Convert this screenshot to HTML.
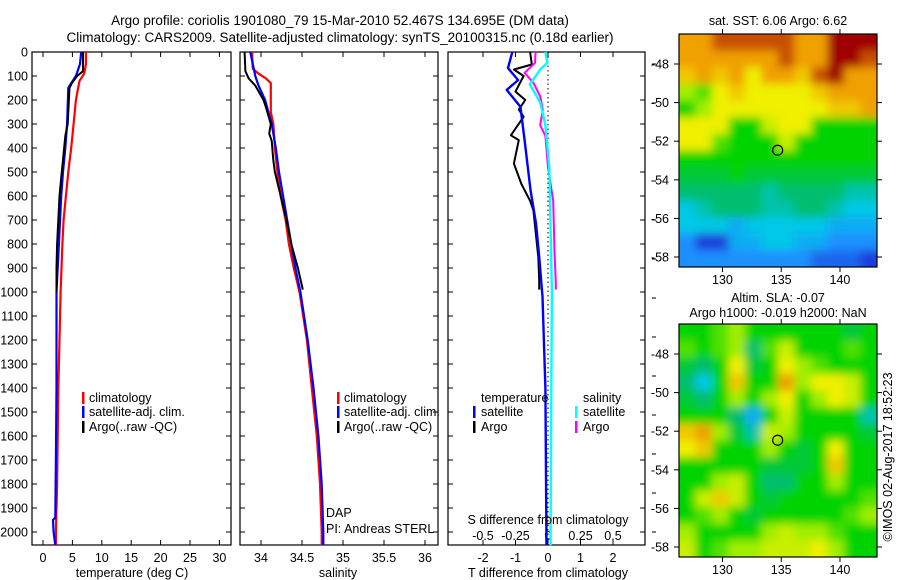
<!DOCTYPE html>
<html><head><meta charset="utf-8"><style>
body{margin:0;background:#fff}
svg{display:block;font-family:"Liberation Sans",sans-serif}
text{font-size:12.5px;fill:#000}
</style></head><body>
<svg id="s" width="900" height="580" xmlns="http://www.w3.org/2000/svg">
<defs>
<filter id="bl" filterUnits="userSpaceOnUse" x="640" y="0" width="260" height="580"><feGaussianBlur stdDeviation="4.5"/></filter>
<clipPath id="c1"><rect x="679" y="34" width="198" height="233"/></clipPath>
<clipPath id="c2"><rect x="679" y="324" width="198" height="233"/></clipPath>
</defs>
<text x="340" y="25" text-anchor="middle" style="font-size:13.5px">Argo profile: coriolis 1901080_79 15-Mar-2010 52.467S 134.695E (DM data)</text>
<text x="340" y="42" text-anchor="middle" style="font-size:13.5px">Climatology: CARS2009. Satellite-adjusted climatology: synTS_20100315.nc (0.18d earlier)</text>
</svg>
<script>
// ---- data ----
const tempClimDepth=[0,50,90,120,200,300,400,500,600,700,800,1000,1200,1400,1600,1800,2000,2055];
const tempClim=[7.3,7.3,7.0,6.2,5.6,5.2,4.8,4.3,3.9,3.5,3.3,3.0,2.8,2.6,2.5,2.4,2.2,2.2];
const tempSatDepth=[0,50,100,130,150,300,400,500,600,800,1000,1400,1700,1940,1950,2000,2055];
const tempSat=[6.5,6.3,5.6,4.8,4.3,4.1,3.8,3.4,3.1,2.7,2.3,2.3,2.2,2.1,1.7,1.8,2.1];
const tempArgoDepth=[0,80,100,130,150,200,300,350,450,550,600,800,900,1000];
const tempArgo=[6.8,6.8,5.8,4.9,4.5,4.4,4.2,3.8,3.4,3.0,2.8,2.4,2.3,2.3];
const salClimDepth=[0,70,90,110,130,250,300,400,500,600,700,800,900,1000,1200,1400,1600,1800,2000,2055];
const salClim=[33.89,33.9,33.97,34.06,34.12,34.12,34.15,34.17,34.2,34.24,34.3,34.34,34.4,34.47,34.56,34.62,34.68,34.72,34.74,34.74];
const salSatDepth=[0,50,100,140,200,300,400,500,600,700,800,900,1000,1200,1400,1600,1800,2000,2055];
const salSat=[33.87,33.9,33.93,33.97,34.05,34.13,34.18,34.22,34.27,34.32,34.37,34.42,34.48,34.57,34.64,34.7,34.74,34.76,34.76];
const salArgoDepth=[0,80,110,140,200,230,300,340,370,450,500,600,700,800,900,990];
const salArgo=[33.8,33.81,33.85,33.93,34.03,34.06,34.12,34.1,34.13,34.15,34.17,34.24,34.31,34.37,34.45,34.51];
const dTSatDepth=[0,67,117,158,228,367,575,714,853,1020,1400,2000,2055];
const dTSat=[-1.1,-1.23,-0.92,-1.27,-0.85,-0.72,-0.54,-0.37,-0.27,-0.17,-0.08,-0.05,-0.05];
const dTArgoDepth=[0,52,73,100,165,200,240,270,347,367,465,550,620,660,855,950,990];
const dTArgo=[-0.55,-0.5,-1.05,-0.75,-1.0,-0.7,-0.9,-0.75,-1.14,-0.9,-1.05,-0.82,-0.55,-0.45,-0.3,-0.27,-0.27];
const dSSatDepth=[0,45,73,135,210,305,480,1000,1400,2000,2055];
const dSSat=[-0.02,-0.005,-0.06,-0.14,-0.06,-0.02,0.01,0.03,0.025,0.02,0.02];
const dSArgoDepth=[0,45,87,130,185,240,305,350,480,620,830,960,990];
const dSArgo=[-0.095,-0.1,-0.18,-0.11,-0.06,-0.04,-0.06,-0.02,0,0.04,0.05,0.06,0.06];
const depthTicks=[0,100,200,300,400,500,600,700,800,900,1000,1100,1200,1300,1400,1500,1600,1700,1800,1900,2000];
const tempTicks=[0,5,10,15,20,25,30];
const salTicks=[34,34.5,35,35.5,36];
const salTickLabels=["34","34.5","35","35.5","36"];
const dTTicks=[-2,-1,0,1,2];
const dSTicks=[-0.5,-0.25,0,0.25,0.5];
const dSTickLabels=["-0.5","-0.25","0","0.25","0.5"];
const lonTicks=[130,135,140];
const latTicks=[-48,-50,-52,-54,-56,-58];
const argoLon=134.695, argoLat=-52.467;
const sstGrid=[
[8,8,8.5,8.5,8.5,8.5,8.5,8,8,9,9,9],
[8,8,8,8,8,8,8.5,8,8,9,9,8.5],
[7.5,8,7.5,8,7,8,8,7.5,8.5,9,8,8],
[6,5.5,7,7.5,7,7,7,7,7.5,8,8,8],
[5,6,7,7,7,7,7,7,7,7.5,7.5,8],
[7,7,7,5,5,6.5,7,7,5,5,5,5],
[7,7,5.5,5,5,5,6.5,5,5,5,5,5],
[5,5,5,5,5,5,5,5,5,5,5,5],
[4.5,4.5,4.5,5,4.5,4.5,4.5,4.5,4.5,4.5,4.5,4.5],
[4,4,4,4,4,3.5,4,4,4,4,3.5,3.5],
[3,3.5,4,4,4,3.5,3.5,4,4,3.5,3,3],
[3,3,3,2.5,3,3,3,3,3,2.5,2.5,2.5],
[2,1,1,2.5,2.5,3,3,2.5,2.5,2,2,2],
[2,2,2,2,2,2,2,2,1.5,1.5,1.5,1]];
const slaGrid=[
[5,5,5.5,6,5,5,5,5,5,5,4.5,5],
[5.5,5,5.5,6,4,5.5,6.5,5,5,5,5.5,5],
[4.5,4,5,7,4.5,5,7,6,5.5,5,5,5],
[4,3,5,7.5,5,5,8,6,7,7,6.5,5],
[4.5,4,5,6,5,6,7,5,6,7,6.5,5],
[5,5,5,4,2.5,5,6.5,5,5,5,5,3.5],
[7.5,8,6,4.5,3.5,6.5,6,5,5,5,5,4.5],
[7,7.5,5,5,5,6,5,4.5,5,7,5,5],
[5,5,5,5,5,4.5,4.5,4.5,5,7.5,5,5],
[5,5,6,6.5,5,4,4,5,5,6,5,5],
[5,6.5,7.5,6.5,5,4.5,5,5,5,5,5,5.5],
[5,5.5,6,5,4.5,5,5,5,5,5,5.5,6],
[6,5,5,5,5,6,6.5,6,6,5.5,5,5],
[6.5,5,5.5,6,6,6.5,6.5,6.5,7,6,5,5]];

// ---- helpers ----
const S=document.getElementById('s'),NS='http://www.w3.org/2000/svg';
function mk(t,a,p){const e=document.createElementNS(NS,t);for(const k in a)e.setAttribute(k,a[k]);(p||S).appendChild(e);return e;}
const T=52,B=545;
const yD=d=>T+d*0.24;
function panel(x0,x1,name){
 const g=mk('g',{});
 
 
 mk('rect',{x:x0,y:T,width:x1-x0,height:B-T,fill:'none',stroke:'#000','stroke-width':1.2},g);
 depthTicks.forEach(d=>{mk('line',{x1:x0,x2:x0+5,y1:yD(d),y2:yD(d),stroke:'#000'},g);mk('line',{x1:x1-5,x2:x1,y1:yD(d),y2:yD(d),stroke:'#000'},g);});
 return g;
}
function series(g,depth,vals,fx,color,w,name){
 let p='';
 for(let i=0;i<vals.length;i++){const x=fx(vals[i]).toFixed(1),y=yD(depth[i]).toFixed(1);p+=(i?'L':'M')+x+' '+y;}
 const e=mk('path',{d:p,fill:'none',stroke:color,'stroke-width':w,'stroke-linejoin':'round'},g);
 
 
}
function xticks(g,ticks,labels,fx,y){
 ticks.forEach((v,i)=>{const x=fx(v);mk('line',{x1:x,x2:x,y1:B,y2:B-5,stroke:'#000'},g);mk('line',{x1:x,x2:x,y1:T,y2:T+5,stroke:'#000'},g);
  const t=mk('text',{x:x,y:y,'text-anchor':'middle'},g);t.textContent=labels[i];});
}
function txt(x,y,s,name,anchor){const t=mk('text',{x:x,y:y,'text-anchor':anchor||'start'});t.textContent=s;
 
 
 return t;}
function legBar(x,y,c){mk('rect',{x:x,y:y-10,width:2.5,height:12,fill:c});}

// depth axis labels
depthTicks.forEach(d=>{const t=mk('text',{x:28,y:yD(d)+4.5,'text-anchor':'end'});t.textContent=d;});

// panel 1 temperature
const fT=v=>43+v*5.88;
const g1=panel(32,231,'temperature-panel');
xticks(g1,tempTicks,tempTicks.map(String),fT,562);
series(g1,tempClimDepth,tempClim,fT,'#f00',2.2,'temp-climatology-line');
series(g1,tempSatDepth,tempSat,fT,'#00f',2.2,'temp-satellite-line');
series(g1,tempArgoDepth,tempArgo,fT,'#000',2,'temp-argo-line');
txt(132,577,'temperature (deg C)','temperature-axis-title','middle');
legBar(82,402,'#f00');txt(89,402,'climatology','legend-climatology');
legBar(82,416,'#00f');txt(89,416,'satellite-adj. clim.','legend-satellite');
legBar(82,431,'#000');txt(89,431,'Argo(..raw -QC)','legend-argo');

// panel 2 salinity
const fS=v=>261+(v-34)*82;
const g2=panel(240,438,'salinity-panel');
xticks(g2,salTicks,salTickLabels,fS,562);
series(g2,salClimDepth,salClim,fS,'#f00',2.2,'sal-climatology-line');
series(g2,salSatDepth,salSat,fS,'#00f',2.2,'sal-satellite-line');
series(g2,salArgoDepth,salArgo,fS,'#000',2,'sal-argo-line');
txt(338,577,'salinity','salinity-axis-title','middle');
legBar(337,402,'#f00');txt(344,402,'climatology','legend-climatology-2');
legBar(337,416,'#00f');txt(344,416,'satellite-adj. clim.','legend-satellite-2');
legBar(337,431,'#000');txt(344,431,'Argo(..raw -QC)','legend-argo-2');
txt(326,517,'DAP','dap-label');
txt(326,533,'PI: Andreas STERL','pi-label');

// panel 3 differences
const fdT=v=>548+v*32.5, fdS=v=>548+v*130;
const g3=panel(448,645,'difference-panel');
mk('line',{x1:548,x2:548,y1:T,y2:B,stroke:'#000','stroke-dasharray':'1.5,3'},g3);
dTTicks.forEach(v=>{const x=fdT(v);mk('line',{x1:x,x2:x,y1:B,y2:B-5,stroke:'#000'},g3);mk('line',{x1:x,x2:x,y1:T,y2:T+5,stroke:'#000'},g3);
 const t=mk('text',{x:x,y:562,'text-anchor':'middle'},g3);t.textContent=v;});
dSTicks.forEach((v,i)=>{const t=mk('text',{x:fdS(v),y:540,'text-anchor':'middle'},g3);t.textContent=dSTickLabels[i];});
series(g3,dTArgoDepth,dTArgo,fdT,'#000',2,'dT-argo-line');
series(g3,dSArgoDepth,dSArgo,fdS,'#f0f',2,'dS-argo-line');
series(g3,dSSatDepth,dSSat,fdS,'#0ff',2.4,'dS-satellite-line');
series(g3,dTSatDepth,dTSat,fdT,'#00f',2.4,'dT-satellite-line');
txt(548,577,'T difference from climatology','dT-axis-title','middle');
txt(548,524,'S difference from climatology','dS-axis-title','middle');
txt(481,402,'temperature','legend-temperature-header');
legBar(473,416,'#00f');txt(481,416,'satellite','legend-dT-satellite');
legBar(473,431,'#000');txt(481,431,'Argo','legend-dT-argo');
txt(583,402,'salinity','legend-salinity-header');
legBar(575,416,'#0ff');txt(583,416,'satellite','legend-dS-satellite');
legBar(575,431,'#f0f');txt(583,431,'Argo','legend-dS-argo');
for(let y=64;y<550;y+=39)mk('line',{x1:652,x2:656,y1:y,y2:y,stroke:'#000'});

// maps
const pal=[[0,0,160],[26,60,220],[30,144,255],[0,200,230],[0,190,110],[0,212,0],[160,238,0],[240,240,0],[240,160,0],[160,0,0]];
function col(v){const i=Math.min(8,Math.floor(v)),f=v-i,a=pal[i],b=pal[i+1];return 'rgb('+a.map((c,k)=>Math.round(c+(b[k]-c)*f)).join(',')+')';}
function map(grid,top,clip,name){
 const lonX=l=>679+(l-126.3)*11.75, latY=l=>top+30+(-48-l)*19.3;
 const g=mk('g',{'clip-path':'url(#'+clip+')'});
 
 
 const gi=mk('g',{filter:'url(#bl)'},g);
 const nr=grid.length,nc=grid[0].length,cw=198/nc,ch=233/nr,P=25;
 grid.forEach((row,r)=>row.forEach((v,c)=>{
  let x=679+c*cw,y=top+r*ch,w=cw+0.5,h=ch+0.5;
  if(c===0){x-=P;w+=P;} if(c===nc-1){w+=P;}
  if(r===0){y-=P;h+=P;} if(r===nr-1){h+=P;}
  const e=mk('rect',{x:x,y:y,width:w,height:h,fill:col(v)},gi);
  
  
 }));
 mk('rect',{x:679,y:top,width:198,height:233,fill:'none',stroke:'#000','stroke-width':1.2});
 lonTicks.forEach(l=>{const x=lonX(l);mk('line',{x1:x,x2:x,y1:top-5,y2:top,stroke:'#000'});mk('line',{x1:x,x2:x,y1:top+233,y2:top+238,stroke:'#000'});
  const t=mk('text',{x:x,y:top+250,'text-anchor':'middle'});t.textContent=l;});
 latTicks.forEach(l=>{const y=latY(l);mk('line',{x1:877,x2:882,y1:y,y2:y,stroke:'#000'});mk('line',{x1:674,x2:679,y1:y,y2:y,stroke:'#000'});
  const t=mk('text',{x:669,y:y+4.5,'text-anchor':'end'});t.textContent=l;});
 const c=mk('circle',{cx:lonX(argoLon),cy:latY(argoLat),r:5,fill:'none',stroke:'#000','stroke-width':1.2});
 
 
}
map(sstGrid,34,'c1','sst-map');
map(slaGrid,324,'c2','sla-map');
txt(778,25,'sat. SST: 6.06 Argo: 6.62','sst-map-title','middle');
txt(778,302,'Altim. SLA: -0.07','sla-map-title','middle');
txt(778,317,'Argo h1000: -0.019 h2000: NaN','sla-map-subtitle','middle');
const cr=txt(0,0,'©IMOS 02-Aug-2017 18:52:23','credit-label','middle');
cr.setAttribute('transform','translate(892,457) rotate(-90)');
</script>
</body></html>
